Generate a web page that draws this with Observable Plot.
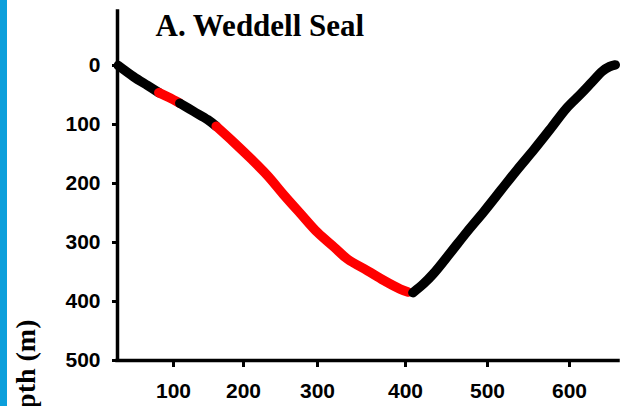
<!DOCTYPE html>
<html><head><meta charset="utf-8">
<script src="https://cdn.jsdelivr.net/npm/d3@7"></script>
<script src="https://cdn.jsdelivr.net/npm/@observablehq/plot@0.6"></script>
<style>
html,body{margin:0;padding:0;background:#fff;overflow:hidden}
#wrap{position:relative;width:639px;height:406px;overflow:hidden}
#chart{position:absolute;left:0;top:0}
#bar{position:absolute;left:0;top:0;width:7px;height:406px;background:#0c9fdb}
</style></head><body>
<div id="wrap"><div id="chart"></div><div id="bar"></div></div>
<script>
const titleText = "A. Weddell Seal";
const yLabel = "Depth (m)";
const xTicks = [100, 200, 300, 400, 500, 600];
const yTicks = [0, 100, 200, 300, 400, 500];

// Dive profile, time (s) vs depth (m), split into alternating segments
const seg1Time  = [21, 43, 63, 79];
const seg1Depth = [0, 19, 34, 46];
const seg2Time  = [79, 93, 109];
const seg2Depth = [46, 54, 64];
const seg3Time  = [109, 129, 149, 161];
const seg3Depth = [64, 78, 92, 103];
const seg4Time  = [161, 186, 210, 232, 255, 277, 300, 319, 334, 357, 375, 394, 403];
const seg4Depth = [103, 130, 158, 186, 220, 251, 283, 308, 328, 348, 364, 379, 384];
const seg5Time  = [409, 422, 434, 455, 475, 496, 516, 536, 557, 577, 596, 614, 627, 640, 649, 656];
const seg5Depth = [385, 370, 353, 317, 282, 247, 212, 177, 142, 107, 73, 48, 29, 10, 2, -1];
const segColors = ["black", "red", "black", "red", "black"];

const segs = [[seg1Time, seg1Depth], [seg2Time, seg2Depth], [seg3Time, seg3Depth], [seg4Time, seg4Depth], [seg5Time, seg5Depth]];

const lineMarks = segs.map(([T, D], k) =>
  Plot.line(T.map((t, i) => ({t, d: D[i]})), {
    x: "t", y: "d", stroke: segColors[k], strokeWidth: 9.5,
    strokeLinecap: "round", strokeLinejoin: "round", curve: "catmull-rom"
  })
);

const serif = "'Liberation Serif', 'Times New Roman', serif";

const plot = Plot.plot({
  width: 639, height: 406,
  marginLeft: 117, marginRight: 21, marginTop: 11, marginBottom: 46,
  style: {fontFamily: "'Liberation Sans', Arial, sans-serif", fontSize: "21px", fontWeight: "bold", color: "black", background: "white", overflow: "visible"},
  x: {type: "linear", domain: [20, 100, 200, 300, 400, 500, 600, 660], range: [117, 173, 243, 317, 405, 487, 569, 618]},
  y: {domain: [-91.5, 500], reverse: true},
  marks: [
    Plot.axisY(yTicks, {anchor: "left", tickSize: 5, tickPadding: 12, strokeWidth: 3, label: null, fontSize: 21, fontWeight: "bold"}),
    Plot.axisX(xTicks, {anchor: "bottom", tickSize: 7, tickPadding: 16, strokeWidth: 3, label: null, fontSize: 21, fontWeight: "bold"}),
    Plot.ruleX([20], {strokeWidth: 3.5, strokeLinecap: "square"}),
    Plot.ruleY([500], {strokeWidth: 3.5, strokeLinecap: "square"}),
    ...lineMarks,
    Plot.text([titleText], {text: d => d, frameAnchor: "top-left", textAnchor: "start", lineAnchor: "middle", dx: 38, dy: 15, fontFamily: serif, fontSize: 31, fontWeight: "bold"}),
    Plot.text([yLabel], {text: d => d, frameAnchor: "bottom-left", rotate: -90, textAnchor: "end", lineAnchor: "middle", dx: -91, dy: -41, fontFamily: serif, fontSize: 28, fontWeight: "bold"})
  ]
});
document.getElementById("chart").appendChild(plot);
</script>
</body></html>
